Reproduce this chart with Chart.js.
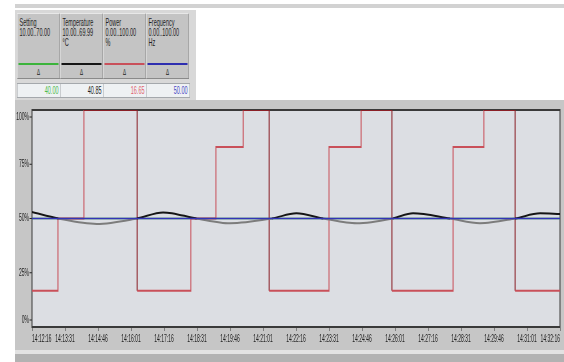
<!DOCTYPE html>
<html>
<head>
<meta charset="utf-8">
<script src="https://cdn.jsdelivr.net/npm/chart.js@4/dist/chart.umd.min.js"></script>
<style>
  html, body { margin: 0; padding: 0; background: #fff; overflow: hidden; }
  /* the source screenshot is squeezed horizontally, so everything is laid out at 2x width and squeezed */
  #wrap { position: absolute; left: 0; top: 0; width: 1128px; height: 362px; transform: scaleX(0.5); transform-origin: 0 0;
          font-family: "Liberation Sans", Arial, sans-serif; }
  #topbar { position: absolute; left: 30px; top: 4px; width: 1098px; height: 4px; background: #d2d2d2; }
  #panel { position: absolute; left: 30px; top: 10px; width: 362px; height: 90px; background: #d8d8d8; }
  .box { position: absolute; top: 3px; width: 84px; height: 64px; background: #c4c4c4;
         border-top: 1px solid #e8e8e8; border-left: 1px solid #e8e8e8; border-right: 1px solid #8a8a8a; border-bottom: 1px solid #8a8a8a;
         font-size: 11px; line-height: 10px; color: #222; }
  .box .txt { position: absolute; left: 4px; top: 3px; white-space: pre; }
  .box .bar { position: absolute; left: 2px; right: 2px; top: 49px; height: 2px; }
  .box .tri { position: absolute; left: 0; right: 0; top: 53px; text-align: center; font-size: 9px; }
  .field { position: absolute; top: 73px; width: 82px; height: 13px; background: #eef1f3; border: 1px solid #a4a8ac;
           font-size: 11px; line-height: 13px; text-align: right; padding-right: 4px; box-sizing: content-box; }
  #frame { position: absolute; left: 30px; top: 100px; width: 1098px; height: 252px; background: #c6c6c6; }
  #scroll1 { position: absolute; left: 30px; top: 350px; width: 1098px; height: 4px; background: #e2e2e2; }
  #scroll2 { position: absolute; left: 30px; top: 354px; width: 1098px; height: 8px; background: #b2b2b2; }
</style>
</head>
<body>
<div id="wrap">
  <div id="topbar"></div>
  <div id="panel"></div>
  <div id="frame"><canvas id="trend"></canvas></div>
  <div id="scroll1"></div>
  <div id="scroll2"></div>
</div>
<script>
// x axis: seconds since 14:12:16, one tick every 75 s
const timeLabels = ['14:12:16', '14:13:31', '14:14:46', '14:16:01', '14:17:16', '14:18:31', '14:19:46', '14:21:01',
    '14:22:16', '14:23:31', '14:24:46', '14:26:01', '14:27:16', '14:28:31', '14:29:46', '14:31:01', '14:32:16'];
const yTicks = [0, 25, 50, 75, 100];

// Power (% of 0..100), stepped
const powerT = [0, 59, 118, 239, 361, 418, 480, 539, 675, 748, 818, 957, 1027, 1098, 1200];
const powerV = [16.65, 50, 100, 16.65, 50, 83, 100, 16.65, 83, 100, 16.65, 83, 100, 16.65, 16.65];

// Temperature (% of 10..69.99)
const tempT = [0, 60, 147, 238, 298, 374, 450, 545, 601, 662, 738, 820, 866, 950, 1018, 1098, 1155, 1200];
const tempV = [53.0, 50, 47.5, 50, 52.8, 50, 47.8, 50, 52.4, 50, 47.8, 50, 52.4, 50, 47.8, 50, 52.4, 52.1];

// Frequency and Setting, both sitting at 50 %
const freqT = [0, 1200];
const freqV = [50, 50];
const setT = [0, 1200];
const setV = [50, 50];

// header panel
const panelNames = ['Setting', 'Temperature', 'Power', 'Frequency'];
const panelRanges = ['10.00..70.00', '10.00..69.99', '0.00..100.00', '0.00..100.00'];
const panelUnits = ['', '°C', '%', 'Hz'];
const panelValues = ['40.00', '40.85', '16.65', '50.00'];
const lineColors = ['#3cb43c', '#151515', '#c9505a', '#2e2eb0'];
const valueColors = ['#4cbc4c', '#222222', '#e0606c', '#4646c4'];

let buildPanel = function () {
    let panel = document.getElementById('panel');
    panelNames.forEach(function (name, i) {
        let left = 4 + i * 86;
        let box = document.createElement('div');
        box.className = 'box';
        box.style.left = left + 'px';
        let lines = name + '\n' + panelRanges[i] + (panelUnits[i] ? '\n' + panelUnits[i] : '');
        box.innerHTML = `<div class="txt"></div><div class="bar" style="background:${lineColors[i]}"></div><div class="tri">Δ</div>`;
        box.querySelector('.txt').textContent = lines;
        panel.appendChild(box);

        let field = document.createElement('div');
        field.className = 'field';
        field.style.left = left + 'px';
        field.style.color = valueColors[i];
        field.textContent = panelValues[i];
        panel.appendChild(field);
    });
};

let toPoints = function (t, v) {
    return t.map(function (x, i) { return { x: x, y: v[i] }; });
};

const plotBack = {
    id: 'plotBack',
    beforeDatasetsDraw: function (chart) {
        let a = chart.chartArea, ctx = chart.ctx;
        ctx.save();
        ctx.strokeStyle = '#3a3a3a';
        ctx.lineWidth = 2;
        ctx.strokeRect(a.left, a.top, a.right - a.left, a.bottom - a.top);
        ctx.restore();
    },
    beforeDraw: function (chart) {
        let a = chart.chartArea, ctx = chart.ctx;
        ctx.save();
        ctx.fillStyle = '#dcdee3';
        ctx.fillRect(a.left, a.top, a.right - a.left, a.bottom - a.top);
        ctx.restore();
    },
    afterDraw: function (chart) {
        let a = chart.chartArea, ctx = chart.ctx, y = chart.scales.y;
        ctx.save();
        // y labels, kept inside the plot height like the original
        ctx.fillStyle = '#222';
        ctx.font = '10px "Liberation Sans", Arial, sans-serif';
        ctx.textAlign = 'right';
        ctx.textBaseline = 'middle';
        yTicks.forEach(function (v) {
            let py = y.getPixelForValue(v);
            py = Math.min(Math.max(py, a.top + 7), a.bottom - 7);
            ctx.fillText(v + '%', a.left - 6, py);
            ctx.fillRect(a.left - 5, py - 0.5, 4, 1);
        });
        ctx.restore();
    }
};

let trendDraw = function () {
    let ctx = document.getElementById('trend').getContext('2d');

    window.trend = new Chart(ctx, {
        type: 'line',
        data: {
            datasets: [{
                label: 'Frequency',
                data: toPoints(freqT, freqV),
                borderColor: '#3434b8',
                borderWidth: 1.6
            }, {
                label: 'Temperature',
                data: toPoints(tempT, tempV),
                borderColor: '#151515',
                borderWidth: 2,
                cubicInterpolationMode: 'monotone',
                segment: {
                    borderColor: function (c) {
                        return (c.p0.parsed.y + c.p1.parsed.y) / 2 < 50 ? '#7c7c7c' : '#151515';
                    }
                }
            }, {
                label: 'Power',
                data: toPoints(powerT, powerV),
                borderColor: '#c9505a',
                borderWidth: 2,
                stepped: true,
                segment: {
                    borderColor: function (c) {
                        return c.p0.parsed.y >= 100 ? '#8a1f26' : '#c9505a';
                    }
                }
            }, {
                label: 'Setting',
                data: toPoints(setT, setV),
                borderColor: '#3cb43c',
                borderWidth: 1.6
            }]
        },
        options: {
            responsive: true,
            maintainAspectRatio: false,
            animation: false,
            events: [],
            elements: { point: { radius: 0 } },
            layout: { padding: { left: 0, right: 8, top: 10, bottom: 0 } },
            plugins: { legend: { display: false }, tooltip: { enabled: false } },
            scales: {
                x: {
                    type: 'linear',
                    min: 0,
                    max: 1200,
                    border: { color: '#3a3a3a', width: 2 },
                    grid: { drawOnChartArea: false, drawTicks: true, tickLength: 4, color: '#3a3a3a' },
                    ticks: {
                        stepSize: 75,
                        autoSkip: false,
                        maxRotation: 0,
                        align: 'inner',
                        padding: 2,
                        color: '#222',
                        font: { size: 10, family: '"Liberation Sans", Arial, sans-serif' },
                        callback: function (v, i) { return timeLabels[i]; }
                    },
                    afterFit: function (s) { s.height = 25; }
                },
                y: {
                    min: 0,
                    max: 100,
                    border: { color: '#3a3a3a', width: 2 },
                    grid: { drawOnChartArea: false, drawTicks: false },
                    ticks: { display: false, stepSize: 25 },
                    afterFit: function (s) { s.width = 34; }
                }
            }
        },
        plugins: [plotBack]
    });
};

buildPanel();
trendDraw();
</script>
</body>
</html>
